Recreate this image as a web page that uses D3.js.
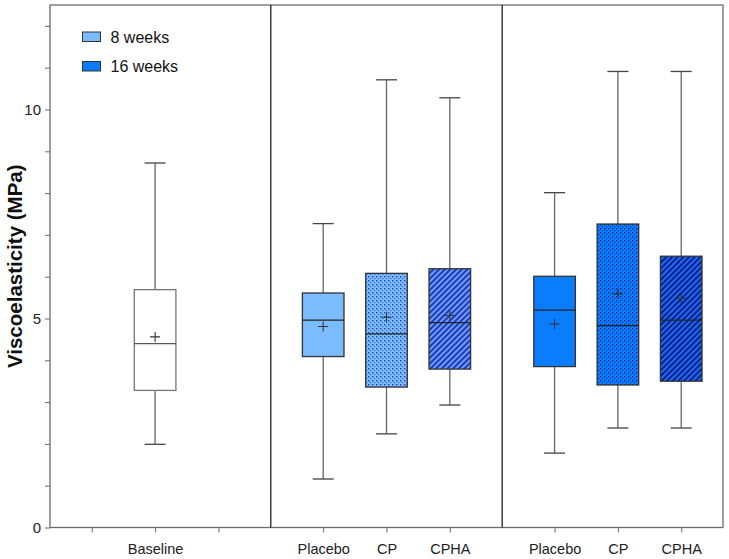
<!DOCTYPE html>
<html><head><meta charset="utf-8">
<script src="https://cdn.jsdelivr.net/npm/d3@7"></script>
<style>body{margin:0;background:#fff;} text{font-family:"Liberation Sans",Arial,sans-serif;}</style>
</head><body><svg id="c" width="729" height="559"></svg>
<script>
// ---- data ----
const groups = ["Baseline", "8 weeks", "16 weeks"];
const groupSlots = [["", "Baseline", ""], ["Placebo", "CP", "CPHA"], ["Placebo", "CP", "CPHA"]];
const boxGroup = [0, 1, 1, 1, 2, 2, 2];
const boxSlot  = [1, 0, 1, 2, 0, 1, 2];
const boxLabel = ["Baseline", "Placebo", "CP", "CPHA", "Placebo", "CP", "CPHA"];
const mins    = [1.99, 1.16, 2.24, 2.93, 1.78, 2.38, 2.38];
const q1s     = [3.28, 4.09, 3.36, 3.79, 3.85, 3.41, 3.50];
const medians = [4.40, 4.96, 4.63, 4.90, 5.20, 4.83, 4.96];
const q3s     = [5.69, 5.61, 6.08, 6.19, 6.01, 7.26, 6.49];
const maxs    = [8.72, 7.27, 10.71, 10.28, 8.01, 10.91, 10.91];
const means   = [4.56, 4.81, 5.03, 5.07, 4.87, 5.59, 5.48];
const legendLabels = ["8 weeks", "16 weeks"];
const yTicks = d3.range(0, 13, 1);
const yLabelTicks = [0, 5, 10];

// ---- layout ----
const svg = d3.select("#c");
const L = 50, R = 723, T = 5, B = 527.5;
const gap = 1.655, edge = 0.66;
const slotPos = (g, i) => edge + g * (2 + gap) + i;
const xMax = slotPos(2, 2) + edge;
const x = d3.scaleLinear().domain([0, xMax]).range([L, R]);
const y = d3.scaleLinear().domain([0, 12.5]).range([B, T]);
const boxW = 41.6, capW = 21;
const FONT = "'Liberation Sans', Arial, sans-serif";

// patterns
const defs = svg.append("defs");
function dots(id, bg, dot) {
  const p = defs.append("pattern").attr("id", id).attr("patternUnits", "userSpaceOnUse").attr("width", 4).attr("height", 4);
  p.append("rect").attr("width", 4).attr("height", 4).attr("fill", bg);
  p.append("rect").attr("x", 0).attr("y", 0).attr("width", 1.4).attr("height", 1.4).attr("fill", dot);
  p.append("rect").attr("x", 2).attr("y", 2).attr("width", 1.2).attr("height", 1.2).attr("fill", dot).attr("opacity", 0.7);
}
function stripes(id, bg, fg) {
  const p = defs.append("pattern").attr("id", id).attr("patternUnits", "userSpaceOnUse").attr("width", 4).attr("height", 4)
    .attr("patternTransform", "rotate(45)");
  p.append("rect").attr("width", 4).attr("height", 4).attr("fill", bg);
  p.append("rect").attr("x", 0).attr("width", 2).attr("height", 4).attr("fill", fg);
}
const light = "#7abcff", dark = "#0a7dff";
dots("dot8", light, "#1d3fb8");
dots("dot16", dark, "#08238a");
stripes("str8", "#6f9cf2", "#1b3bbf");
stripes("str16", "#1c6cf0", "#0a1f8f");
const fills = {
  "0Baseline": "#ffffff",
  "1Placebo": light, "1CP": "url(#dot8)", "1CPHA": "url(#str8)",
  "2Placebo": dark, "2CP": "url(#dot16)", "2CPHA": "url(#str16)"
};

// frame
svg.append("rect").attr("x", L).attr("y", T).attr("width", R - L).attr("height", B - T)
  .attr("fill", "none").attr("stroke", "#6b6b6b").attr("stroke-width", 1.3);
// dividers
[ (slotPos(0,2)+slotPos(1,0))/2, (slotPos(1,2)+slotPos(2,0))/2 ].forEach(d => {
  svg.append("line").attr("x1", x(d)).attr("x2", x(d)).attr("y1", T).attr("y2", B)
    .attr("stroke", "#222").attr("stroke-width", 1.3);
});

// y axis
const yAxis = d3.axisLeft(y).tickValues(yTicks).tickSize(5).tickFormat(d => yLabelTicks.includes(d) ? d : "");
const ya = svg.append("g").attr("transform", `translate(${L},0)`).call(yAxis);
ya.select(".domain").remove();
ya.selectAll("line").attr("stroke", "#6b6b6b").attr("stroke-width", 1);
ya.selectAll("text").attr("font-size", 15).attr("fill", "#222").attr("dx", -1).attr("dy", "0.35em")
  .style("font-family", FONT);

// x axis ticks
const allSlots = [];
groupSlots.forEach((arr, g) => arr.forEach((lab, i) => allSlots.push({ p: slotPos(g, i), lab })));
const xa = svg.append("g").attr("transform", `translate(0,${B})`)
  .call(d3.axisBottom(x).tickValues(allSlots.map(d => d.p)).tickSize(5)
    .tickFormat((d, i) => allSlots[i].lab));
xa.select(".domain").remove();
xa.selectAll("line").attr("stroke", "#6b6b6b").attr("stroke-width", 1);
xa.selectAll("text").attr("font-size", 14.5).attr("fill", "#222").attr("dy", "1.3em")
  .style("font-family", FONT);

// boxes
boxLabel.forEach((lab, k) => {
  const cx = x(slotPos(boxGroup[k], boxSlot[k]));
  const g = svg.append("g");
  g.append("line").attr("x1", cx).attr("x2", cx).attr("y1", y(maxs[k])).attr("y2", y(q3s[k]))
    .attr("stroke", "#666").attr("stroke-width", 1.3);
  g.append("line").attr("x1", cx).attr("x2", cx).attr("y1", y(q1s[k])).attr("y2", y(mins[k]))
    .attr("stroke", "#666").attr("stroke-width", 1.3);
  [maxs[k], mins[k]].forEach(v => g.append("line").attr("x1", cx - capW/2).attr("x2", cx + capW/2)
    .attr("y1", y(v)).attr("y2", y(v)).attr("stroke", "#444").attr("stroke-width", 1.3));
  g.append("rect").attr("x", cx - boxW/2).attr("width", boxW).attr("y", y(q3s[k])).attr("height", y(q1s[k]) - y(q3s[k]))
    .attr("fill", fills[boxGroup[k] + lab]).attr("stroke", boxGroup[k] === 0 ? "#777" : "#333").attr("stroke-width", 1.3);
  g.append("line").attr("x1", cx - boxW/2).attr("x2", cx + boxW/2).attr("y1", y(medians[k])).attr("y2", y(medians[k]))
    .attr("stroke", boxGroup[k] === 0 ? "#555" : "#222").attr("stroke-width", 1.3);
  const my = y(means[k]);
  g.append("path").attr("d", `M${cx-5},${my}H${cx+5}M${cx},${my-5}V${my+5}`)
    .attr("stroke", "#333").attr("stroke-width", 1.1).attr("fill", "none");
});

// legend
const legFills = [light, dark];
legendLabels.forEach((lab, i) => {
  const ly = 32 + i * 29.5;
  svg.append("rect").attr("x", 82.5).attr("y", ly).attr("width", 18).attr("height", 9.5)
    .attr("fill", legFills[i]).attr("stroke", "#333").attr("stroke-width", 1);
  svg.append("text").attr("x", 110.5).attr("y", ly + 10.5).attr("font-size", 16).attr("fill", "#111").text(lab);
});

// y label
svg.append("text").attr("transform", `translate(22,${(T+B)/2}) rotate(-90)`).attr("text-anchor", "middle")
  .attr("font-size", 20.5).attr("font-weight", "bold").attr("fill", "#111").text("Viscoelasticity (MPa)");
</script></body></html>
